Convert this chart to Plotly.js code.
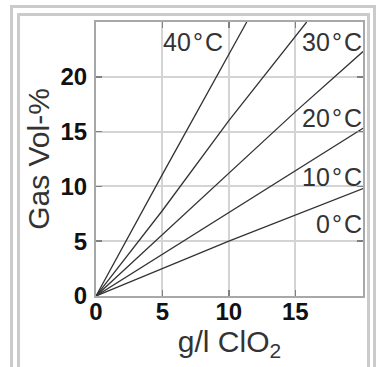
<!DOCTYPE html>
<html>
<head>
<meta charset="utf-8">
<script src="https://cdn.plot.ly/plotly-3.0.1.min.js"></script>
<style>
  html, body { margin: 0; padding: 0; background: #fff; }
  #wrap { position: relative; width: 380px; height: 367px; overflow: hidden; }
  .frame { position: absolute; border: 3px solid #cbcbcb; border-bottom: none; box-sizing: border-box; }
  #outer { left: 10px; top: 5px; width: 366px; height: 380px; }
  #inner { left: 17px; top: 13px; width: 353px; height: 380px; }
  #chart { position: absolute; left: 0; top: 0; width: 380px; height: 367px; }
</style>
</head>
<body>
<div id="wrap">
  <div id="outer" class="frame"></div>
  <div id="inner" class="frame"></div>
  <div id="chart"></div>
</div>
<script>
// Temperature curves: g/l ClO2 -> Gas Vol-%
const seriesNames = ["0\u200a°\u200aC", "10\u200a°\u200aC", "20\u200a°\u200aC", "30\u200a°\u200aC", "40\u200a°\u200aC"];
const x0 = [0, 10, 20.1];
const y0 = [0, 5.0, 9.8];
const x10 = [0, 10, 20.1];
const y10 = [0, 7.6, 15.3];
const x20 = [0, 10, 15, 20.1];
const y20 = [0, 11.2, 16.8, 22.3];
const x30 = [0, 5, 10, 15.86];
const y30 = [0, 7.8, 16.0, 25];
const x40 = [0, 5, 11.35];
const y40 = [0, 11.1, 25];
const xTicks = [0, 5, 10, 15];
const yTicks = [0, 5, 10, 15, 20];
const xTitle = "g/l ClO<sub>2</sub>";
const yTitle = "Gas Vol-%";

const xs = [x0, x10, x20, x30, x40];
const ys = [y0, y10, y20, y30, y40];

const FONT = "Liberation Sans, Arial, Helvetica, sans-serif";

const traces = xs.map((xv, i) => ({
  type: "scatter", mode: "lines", name: seriesNames[i],
  x: xv, y: ys[i],
  line: { color: "#333333", width: 1.3 },
  hoverinfo: "skip", cliponaxis: true
}));

// label placement (positions only)
const labelPos = [
  { x: 20.1, y: 6.55, xanchor: "right" },
  { x: 20.1, y: 10.9, xanchor: "right" },
  { x: 20.1, y: 16.2, xanchor: "right" },
  { x: 20.1, y: 23.2, xanchor: "right" },
  { x: 5.0,  y: 23.2, xanchor: "left" }
];
const annotations = seriesNames.map((n, i) => ({
  text: n, xref: "x", yref: "y", x: labelPos[i].x, y: labelPos[i].y,
  xanchor: labelPos[i].xanchor, yanchor: "middle", showarrow: false,
  font: { family: FONT, size: 25, color: "#333333" }, borderpad: 0
}));

const axisCommon = {
  showline: true, linecolor: "#a8a8a8", linewidth: 2, mirror: "ticks",
  ticks: "inside", ticklen: 6, tickwidth: 1.5, tickcolor: "#808080",
  showgrid: true, gridcolor: "#d4d4d4", gridwidth: 2, zeroline: false,
  tickfont: { family: FONT, size: 24, color: "#111111", weight: "bold" },
  fixedrange: true
};

const layout = {
  width: 380, height: 367,
  margin: { l: 96, r: 17, t: 22, b: 71, pad: 0 },
  paper_bgcolor: "rgba(0,0,0,0)", plot_bgcolor: "#ffffff",
  showlegend: false,
  xaxis: Object.assign({}, axisCommon, {
    range: [0, 20.1], tickmode: "array", tickvals: xTicks, ticktext: xTicks.map(String),
    ticklabelstandoff: -7,
    title: { text: xTitle, font: { family: FONT, size: 30, color: "#333333" }, standoff: 4 }
  }),
  yaxis: Object.assign({}, axisCommon, {
    range: [0, 25], tickmode: "array", tickvals: yTicks, ticktext: yTicks.map(String),
    ticklabelstandoff: 2,
    title: { text: yTitle, font: { family: FONT, size: 30, color: "#333333" }, standoff: 2 }
  }),
  annotations: annotations
};

Plotly.newPlot("chart", traces, layout, { displayModeBar: false, staticPlot: true });
</script>
</body>
</html>
